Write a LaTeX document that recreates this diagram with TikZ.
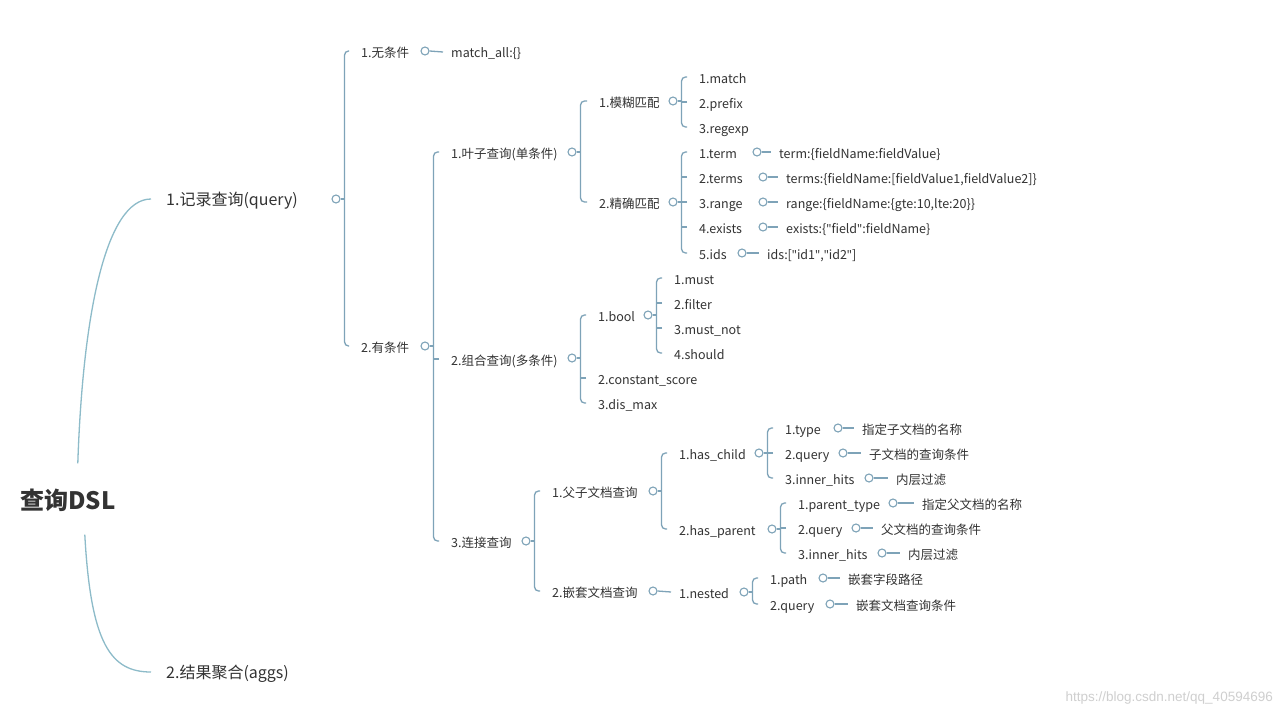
\documentclass[tikz,border=0pt]{standalone}
\usepackage{fontspec}
\setmainfont{Noto Sans CJK SC}
\newfontfamily\wmfont{Liberation Sans}
\newfontfamily\qf{Noto Sans}
\newcommand{\dq}{{\qf"}}
\definecolor{ln}{HTML}{7EA3B8}
\definecolor{stemc}{HTML}{8DBBC9}
\definecolor{txt}{HTML}{333333}
\definecolor{wm}{HTML}{CFCFCF}

\begin{document}
\begin{tikzpicture}[x=1pt, y=-1pt,
	lbl/.style={anchor=west, inner sep=1pt, text=txt, font=\fontsize{12.5}{14}\selectfont, text height=12pt, text depth=0pt},
	big/.style={lbl, font=\fontsize{16}{18}\selectfont, text height=14pt, text depth=2pt},
	dot/.style={circle, draw=ln, fill=white, line width=1.1pt, inner sep=0pt, minimum size=8pt},
	br/.style={draw=ln, line width=1.3pt, rounded corners=4pt},
	rootline/.style={draw=stemc, line width=1.3pt},
]
\fill[white] (0,0) rectangle (1281,717);
\useasboundingbox (0,0) rectangle (1281,717);

% root and first level
\node[anchor=west, inner sep=1pt, text=txt, font=\fontsize{24}{28}\selectfont\bfseries] (root) at (19,500) {查询DSL};
\node[big] (q) at (165,199) {1.记录查询(query)};
\node[big] (agg) at (165,672) {2.结果聚合(aggs)};
\draw[rootline] ([xshift=10pt,yshift=24pt]root.north) .. controls +(5,-150) and +(-45,0) .. ([xshift=-14pt]q.west);
\draw[rootline] ([xshift=17pt,yshift=-22pt]root.south) .. controls +(6,110) and +(-40,0) .. ([xshift=-14pt]agg.west);

% labels
\foreach \n/\x/\y/\t in {
	q1/360/51/{1.无条件}, q2/360/346/{2.有条件},
	leaf/450/152/{1.叶子查询(单条件)}, comb/450/359/{2.组合查询(多条件)}, join/450/541/{3.连接查询},
	fuzzy/598/101/{1.模糊匹配}, exact/598/202/{2.精确匹配},
	f1/698/77/{1.match}, f2/698/102/{2.prefix}, f3/698/127/{3.regexp},
	e1/698/152/{1.term}, e2/698/177/{2.terms}, e3/698/202/{3.range}, e4/698/227/{4.exists}, e5/698/253/{5.ids},
	bool/597/315/{1.bool}, c2/597/378/{2.constant\_score}, c3/597/403/{3.dis\_max},
	b1/673/278/{1.must}, b2/673/303/{2.filter}, b3/673/328/{3.must\_not}, b4/673/353/{4.should},
	pc/551/491/{1.父子文档查询}, ns/551/591/{2.嵌套文档查询}, nested/678/592/{1.nested},
	hc/678/453/{1.has\_child}, hp/678/529/{2.has\_parent},
	hc1/784/428/{1.type}, hc2/784/453/{2.query}, hc3/784/478/{3.inner\_hits},
	hp1/797/503/{1.parent\_type}, hp2/797/528/{2.query}, hp3/797/553/{3.inner\_hits},
	n1/769/578/{1.path}, n2/769/604/{2.query}}
	\node[lbl] (\n) at (\x,\y) {\t};

% values
\foreach \n/\x/\y/\t in {
	q1-v/450/52/{match\_all:\{\}},
	e1-v/778/152/{term:\{fieldName:fieldValue\}},
	e2-v/785/177/{terms:\{fieldName:[fieldValue1,fieldValue2]\}},
	e3-v/785/202/{range:\{fieldName:\{gte:10,lte:20\}\}},
	e4-v/785/227/{exists:\{\dq field\dq:fieldName\}},
	e5-v/766/253/{ids:[\dq id1\dq,\dq id2\dq]},
	hc1-v/861/428/{指定子文档的名称}, hc2-v/868/453/{子文档的查询条件}, hc3-v/895/478/{内层过滤},
	hp1-v/921/503/{指定父文档的名称}, hp2-v/880/528/{父文档的查询条件}, hp3-v/907/553/{内层过滤},
	n1-v/847/578/{嵌套字段路径}, n2-v/855/604/{嵌套文档查询条件}}
	\node[lbl] (\n) at (\x,\y) {\t};

% dots
\foreach \n/\x/\y in {q/336/199, q1/425/51, q2/425/346, leaf/572/152, comb/572/358, join/526/541,
	fuzzy/673/101, exact/673/202, e1/757/152, e2/763/177, e3/763/202, e4/763/227, e5/742/253,
	bool/648/315, pc/653/491, ns/653/591, nested/744/592, hc/759/453, hp/772/529,
	hc1/838/428, hc2/843/453, hc3/869/478, hp1/893/503, hp2/856/528, hp3/882/553, n1/823/578, n2/830/604}
	\node[dot] (\n-o) at (\x,\y) {};

% brackets
\foreach \p/\a/\b in {q/q1/q2, q2/leaf/join, leaf/fuzzy/exact, fuzzy/f1/f3, exact/e1/e5, comb/bool/c3,
	bool/b1/b4, join/pc/ns, pc/hc/hp, hc/hc1/hc3, hp/hp1/hp3, nested/n1/n2} {
	\coordinate (\p-b) at ([xshift=4pt]\p-o.east);
	\draw[br] (\p-o.east) -- (\p-b);
	\draw[br] ([xshift=-11pt]\a.west) -| (\p-b) |- ([xshift=-11pt]\b.west);
}
\foreach \c/\p in {comb/q2, f2/fuzzy, e2/exact, e3/exact, e4/exact, c2/comb, b2/bool, b3/bool, hc2/hc, hp2/hp}
	\draw[br] ([xshift=-11pt]\c.west) -- (\c.west -| \p-b);

% dashes to values
\foreach \c in {q1, e1, e2, e3, e4, e5, hc1, hc2, hc3, hp1, hp2, hp3, n1, n2}
	\draw[br] (\c-o.east) -- ([xshift=-7pt]\c-v.west);
\draw[br] (ns-o.east) -- ([xshift=-7pt]nested.west);

\node[anchor=east, inner sep=0pt, text=wm, font=\wmfont\fontsize{13.5}{15}\selectfont] (mark) at (1273,698) {https://blog.csdn.net/qq\_40594696};
\end{tikzpicture}
\end{document}
